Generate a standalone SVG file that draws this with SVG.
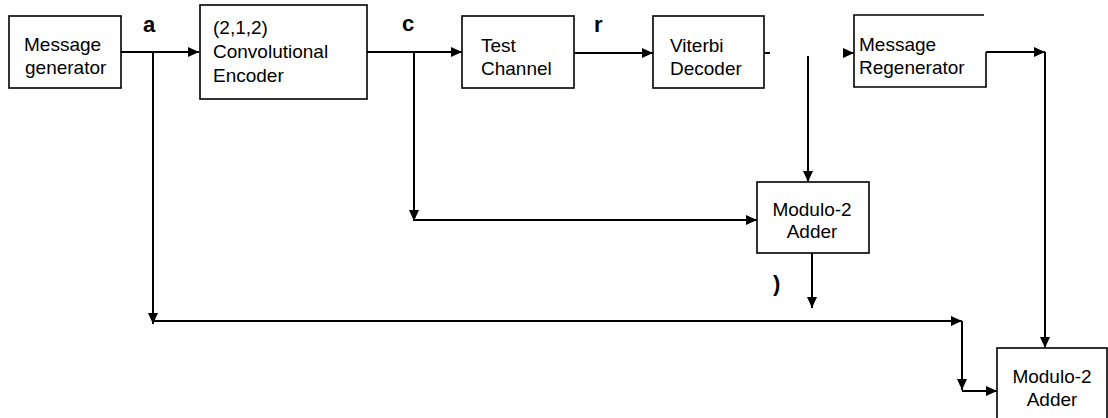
<svg xmlns="http://www.w3.org/2000/svg" width="1108" height="418" viewBox="0 0 1108 418">
<style>
.box{fill:#fff;stroke:#000;stroke-width:1.6}
.t{font-family:"Liberation Sans",Arial,sans-serif;font-size:19px;fill:#000}
.c{text-anchor:middle}
.lbl{font-family:"Liberation Sans",Arial,sans-serif;font-size:22px;font-weight:bold;fill:#000}
.ln{fill:none;stroke:#000;stroke-width:2}
</style>
<defs>
<marker id="ah" markerUnits="userSpaceOnUse" markerWidth="12" markerHeight="10" refX="11" refY="5" orient="auto">
<path d="M0,0 L11,5 L0,10 z" fill="#000"/>
</marker>
</defs>
<rect width="1108" height="418" fill="#fff"/>
<g id="connectors">
<path class="ln" d="M121,52 H199" marker-end="url(#ah)"/>
<path class="ln" d="M153,52 V324" marker-end="url(#ah)"/>
<path class="ln" d="M153,321 H962" marker-end="url(#ah)"/>
<path class="ln" d="M962,321 V390" marker-end="url(#ah)"/>
<path class="ln" d="M962,391 H997" marker-end="url(#ah)"/>
<path class="ln" d="M367,52 H462" marker-end="url(#ah)"/>
<path class="ln" d="M414,52 V221" marker-end="url(#ah)"/>
<path class="ln" d="M414,220 H757" marker-end="url(#ah)"/>
<path class="ln" d="M574,53 H653" marker-end="url(#ah)"/>
<path class="ln" d="M764,53 H770"/>
<path class="ln" d="M808,56 V182" marker-end="url(#ah)"/>
<path class="ln" d="M843,53 H854" marker-end="url(#ah)"/>
<path class="ln" d="M812,253 V308" marker-end="url(#ah)"/>
<path class="ln" d="M986,52 H1045" marker-end="url(#ah)"/>
<path class="ln" d="M1045,52 V348" marker-end="url(#ah)"/>
</g>
<g id="msg-gen">
<rect class="box" x="9" y="16" width="112" height="72"/>
<text class="t" x="24" y="51">Message</text>
<text class="t" x="25" y="74">generator</text>
</g>
<g id="encoder">
<rect class="box" x="200" y="5" width="167" height="94"/>
<text class="t" x="213" y="34">(2,1,2)</text>
<text class="t" x="213" y="58">Convolutional</text>
<text class="t" x="213" y="82">Encoder</text>
</g>
<g id="test-channel">
<rect class="box" x="462" y="16" width="112" height="72"/>
<text class="t" x="481" y="52">Test</text>
<text class="t" x="481" y="75">Channel</text>
</g>
<g id="viterbi">
<rect class="box" x="653" y="16" width="111" height="72"/>
<text class="t" x="670" y="52">Viterbi</text>
<text class="t" x="670" y="75">Decoder</text>
</g>
<g id="msg-regen">
<path class="box" d="M984,15 H854 V87 H986 V52"/>
<text class="t" x="859" y="51">Message</text>
<text class="t" x="859" y="74">Regenerator</text>
</g>
<g id="adder1">
<rect class="box" x="757" y="182" width="112" height="71"/>
<text class="t c" x="812" y="216">Modulo-2</text>
<text class="t c" x="812" y="238">Adder</text>
</g>
<g id="adder2">
<rect class="box" x="997" y="348" width="110" height="80"/>
<text class="t c" x="1052" y="383">Modulo-2</text>
<text class="t c" x="1052" y="406">Adder</text>
</g>
<g id="labels">
<text class="lbl" x="143" y="32">a</text>
<text class="lbl" x="402" y="31">c</text>
<text class="lbl" x="594" y="32">r</text>
<text class="lbl" x="773" y="291">)</text>
</g>
</svg>
